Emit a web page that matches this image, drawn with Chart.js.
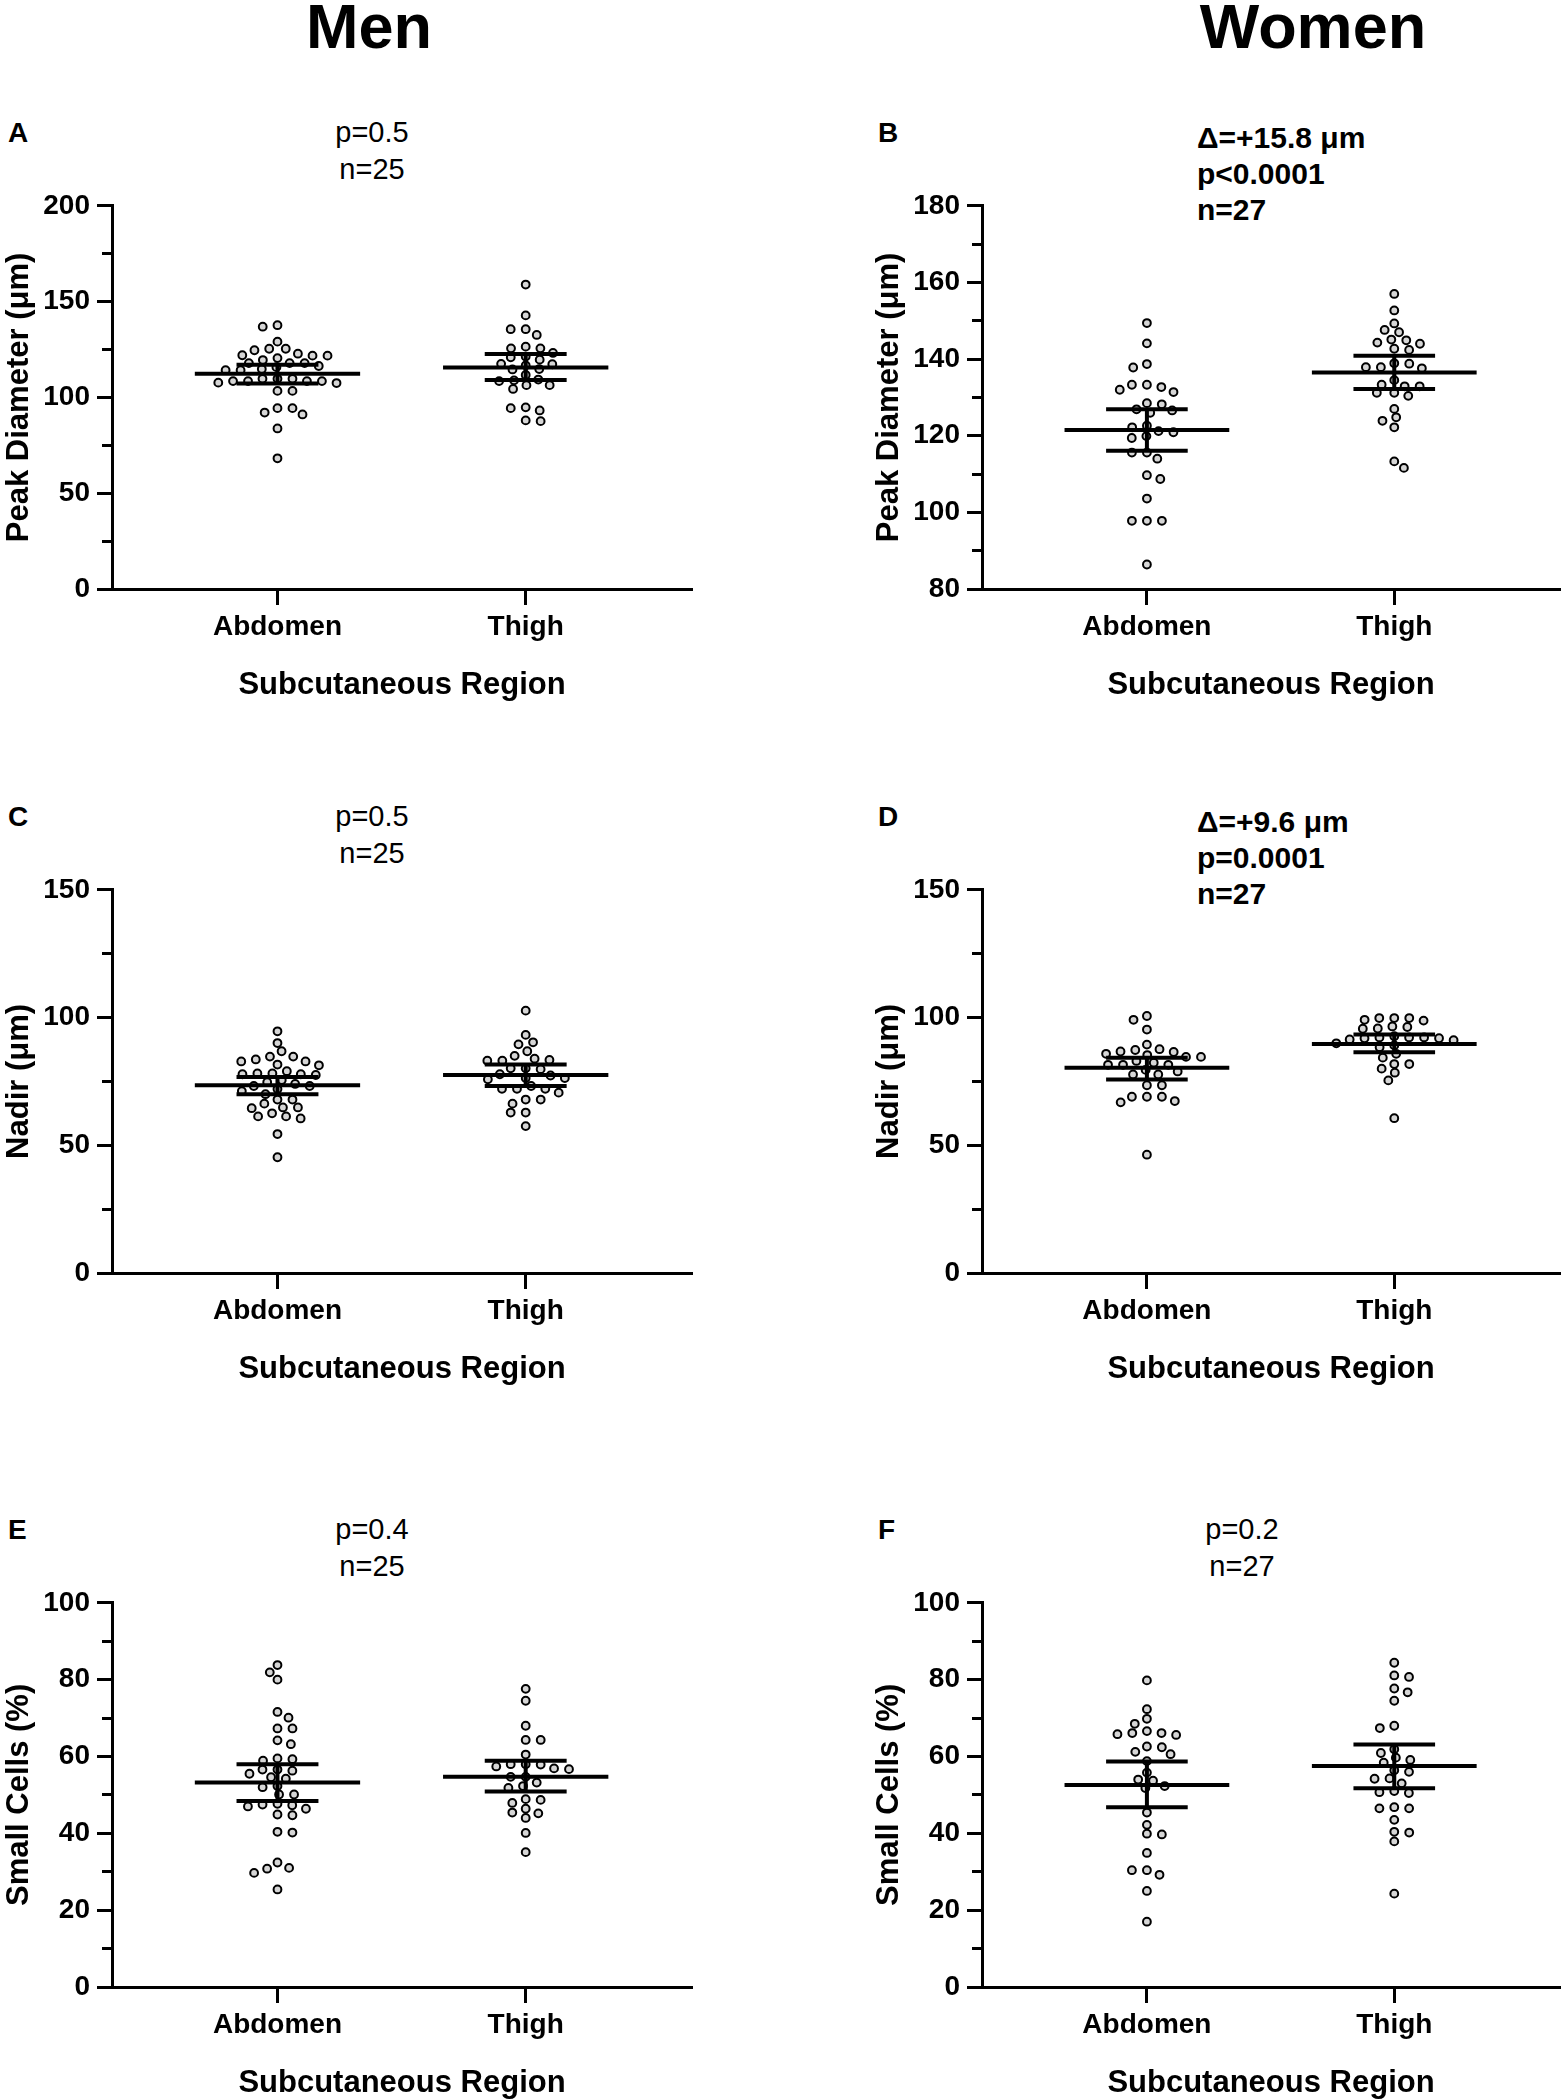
<!DOCTYPE html>
<html>
<head>
<meta charset="utf-8">
<script src="https://cdn.jsdelivr.net/npm/chart.js@4.4.1/dist/chart.umd.min.js"></script>
<style>
  html, body { margin: 0; padding: 0; background: #fff; }
  body { position: relative; width: 1566px; height: 2100px; overflow: hidden;
         font-family: "Liberation Sans", Arial, Helvetica, sans-serif; color: #000; }
  .t { position: absolute; white-space: nowrap; color: #000; }
  canvas { position: absolute; }
</style>
</head>
<body>
<div class="t" style="left:169px;width:400px;text-align:center;top:-5px;font-size:63px;line-height:63px;font-weight:bold;">Men</div>
<div class="t" style="left:1113px;width:400px;text-align:center;top:-5px;font-size:63px;line-height:63px;font-weight:bold;">Women</div>
<div id="texts"></div>
<script>
// ---------------- DATA ----------------
const categories = ['Abdomen', 'Thigh'];

// Peak diameter (µm)
const peakMenTicks = [0, 50, 100, 150, 200];
const peakMenAbdomen = [136.9,137.7,129.1,124.6,125.4,125.4,122.0,120.5,121.8,121.8,122.8,119.5,117.9,116.4,117.9,117.9,114.8,114.2,114.2,115.8,108.5,109.7,108.5,109.7,108.5,109.7,107.5,108.5,107.7,103.4,103.4,94.4,94.4,91.1,92.1,83.8,68.2];
const peakMenThigh = [158.9,142.8,135.6,135.6,132.6,125.6,126.5,125.6,123.2,119.7,120.9,121.3,117.3,116.7,114.6,117.5,114.8,111.7,109.3,108.5,108.9,106.4,106.4,104.4,94.8,94.4,93.2,87.6,88.0];
const peakMenMean = [112.4, 115.6];
const peakMenLow  = [107.3, 109.1];
const peakMenHigh = [117.1, 122.6];

const peakWomenTicks = [80, 100, 120, 140, 160, 180];
const peakWomenAbdomen = [149.4,144.1,137.8,138.7,132.0,133.3,132.7,133.3,131.4,128.2,128.5,126.0,126.6,126.9,122.2,122.6,121.2,120.9,119.4,119.9,115.6,115.6,114.0,108.7,109.7,103.6,97.8,97.8,97.8,86.4];
const peakWomenThigh = [157.0,152.7,149.3,147.0,147.6,144.9,144.3,145.1,144.0,142.4,142.7,137.9,138.8,137.9,138.9,137.6,134.5,132.9,132.9,133.3,130.4,131.2,131.2,127.0,124.8,123.9,122.2,113.3,111.6];
const peakWomenMean = [121.5, 136.5];
const peakWomenLow  = [116.1, 132.2];
const peakWomenHigh = [126.9, 140.9];

// Nadir (µm)
const nadirTicks = [0, 50, 100, 150];
const nadirMenAbdomen = [94.6,90.0,86.8,82.8,84.7,82.8,83.6,84.7,81.6,81.3,77.8,77.5,78.1,78.1,79.0,77.8,73.2,74.0,75.5,74.7,73.2,72.0,70.0,71.2,67.9,66.3,67.9,64.5,64.8,64.8,62.5,60.5,61.3,61.3,54.4,45.3];
const nadirMenThigh = [102.7,93.2,89.5,90.3,85.0,86.8,83.1,83.4,83.1,83.9,79.8,80.1,80.1,76.3,75.8,77.8,77.3,76.3,73.2,72.1,72.1,72.1,66.3,70.6,67.9,67.9,62.8,62.8,57.5];
const nadirMenMean = [73.5, 77.5];
const nadirMenLow  = [70.0, 73.2];
const nadirMenHigh = [76.7, 81.6];

const nadirWomenAbdomen = [100.6,99.1,95.3,89.4,87.3,86.5,86.7,87.6,84.6,85.3,85.8,84.6,81.5,81.5,82.3,83.0,81.5,79.5,78.9,77.7,77.7,73.5,73.5,67.3,69.0,69.0,69.0,66.8,46.3];
const nadirWomenThigh = [99.8,99.1,98.8,99.8,99.8,95.6,96.3,96.5,95.7,91.9,92.7,91.1,92.2,92.2,92.2,91.9,91.4,85.8,89.1,88.4,89.9,84.3,81.8,81.8,80.0,78.4,75.4,60.6];
const nadirWomenMean = [80.3, 89.6];
const nadirWomenLow  = [75.7, 86.4];
const nadirWomenHigh = [84.3, 93.4];

// Small cells (%)
const smallTicks = [0, 20, 40, 60, 80, 100];
const smallMenAbdomen = [83.8,81.9,80.0,71.6,70.1,67.3,67.3,64.2,63.2,58.9,59.5,59.3,55.5,56.6,56.6,56.3,54.6,54.2,52.0,52.3,50.1,50.1,47.7,47.0,46.4,47.5,47.3,44.7,44.9,40.2,40.4,32.4,29.7,31.0,30.8,25.4];
const smallMenThigh = [77.6,74.5,68.0,64.3,64.3,60.5,57.9,58.0,56.7,57.4,58.0,56.9,54.7,54.7,53.2,51.8,52.3,48.7,48.9,47.9,46.4,45.4,45.2,44.0,40.1,35.1];
const smallMenMean = [53.2, 54.7];
const smallMenLow  = [48.4, 50.9];
const smallMenHigh = [58.0, 58.9];

const smallWomenAbdomen = [79.8,72.3,69.8,68.5,66.6,66.1,66.1,65.8,65.6,62.6,62.4,61.2,60.6,58.8,55.8,54.0,53.7,52.3,51.8,45.4,42.2,39.7,39.9,34.9,29.2,30.4,30.4,25.0,17.0];
const smallWomenThigh = [84.4,80.7,81.1,76.7,77.7,74.5,67.4,68.0,61.9,60.9,59.7,58.4,59.1,56.0,56.4,54.2,54.3,53.0,50.5,51.0,50.7,46.5,46.8,46.5,43.5,40.2,40.4,37.9,24.3];
const smallWomenMean = [52.6, 57.5];
const smallWomenLow  = [46.8, 51.7];
const smallWomenHigh = [58.7, 63.1];

// Panel annotations
const panelLetters = ['A', 'B', 'C', 'D', 'E', 'F'];
const annotA = ['p=0.5', 'n=25'];
const annotB = ['\u0394=+15.8 \u03BCm', 'p<0.0001', 'n=27'];
const annotC = ['p=0.5', 'n=25'];
const annotD = ['\u0394=+9.6 \u03BCm', 'p=0.0001', 'n=27'];
const annotE = ['p=0.4', 'n=25'];
const annotF = ['p=0.2', 'n=27'];

// ---------------- LAYOUT / STYLE ----------------
const FONT = "'Liberation Sans', Arial, Helvetica, sans-serif";
Chart.defaults.font.family = FONT;
Chart.defaults.color = '#000';

const rowTop = [202, 886, 1599];
const plotH = [387, 387, 388];
const colLeft = [0, 783];
const padLeft = [0, 87];
const padRight = [91, 0];
const CANVAS_W = 783;
const XAXIS_H = 115;
const MEAN_HALF = 0.333;
const CAP_HALF = 0.165;
const SPREAD_X = 15;   // horizontal dot pitch (px)
const SPREAD_Y = 8.5;  // vertical distance below which dots collide (px)

const panels = [
  {row:0, col:0, yTitle:'Peak Diameter (\u03BCm)', ticks:peakMenTicks, abd:peakMenAbdomen, thi:peakMenThigh, mean:peakMenMean, low:peakMenLow, high:peakMenHigh, annot:annotA, bold:false},
  {row:0, col:1, yTitle:'Peak Diameter (\u03BCm)', ticks:peakWomenTicks, abd:peakWomenAbdomen, thi:peakWomenThigh, mean:peakWomenMean, low:peakWomenLow, high:peakWomenHigh, annot:annotB, bold:true},
  {row:1, col:0, yTitle:'Nadir (\u03BCm)', ticks:nadirTicks, abd:nadirMenAbdomen, thi:nadirMenThigh, mean:nadirMenMean, low:nadirMenLow, high:nadirMenHigh, annot:annotC, bold:false},
  {row:1, col:1, yTitle:'Nadir (\u03BCm)', ticks:nadirTicks, abd:nadirWomenAbdomen, thi:nadirWomenThigh, mean:nadirWomenMean, low:nadirWomenLow, high:nadirWomenHigh, annot:annotD, bold:true},
  {row:2, col:0, yTitle:'Small Cells (%)', ticks:smallTicks, abd:smallMenAbdomen, thi:smallMenThigh, mean:smallMenMean, low:smallMenLow, high:smallMenHigh, annot:annotE, bold:false},
  {row:2, col:1, yTitle:'Small Cells (%)', ticks:smallTicks, abd:smallWomenAbdomen, thi:smallWomenThigh, mean:smallWomenMean, low:smallWomenLow, high:smallWomenHigh, annot:annotF, bold:false}
];

// ---------------- TEXT (HTML) ----------------
const texts = document.getElementById('texts');
function addText(str, x, baseline, size, bold, align) {
  const d = document.createElement('div');
  d.className = 't';
  d.textContent = str;
  d.style.fontSize = size + 'px';
  d.style.lineHeight = size + 'px';
  d.style.fontWeight = bold ? 'bold' : 'normal';
  d.style.top = (baseline - 0.8465 * size) + 'px';
  if (align === 'center') {
    d.style.left = (x - 200) + 'px';
    d.style.width = '400px';
    d.style.textAlign = 'center';
  } else {
    d.style.left = x + 'px';
  }
  texts.appendChild(d);
}

panels.forEach((p, i) => {
  const axisX = colLeft[p.col] + padLeft[p.col] + 112;
  const top = rowTop[p.row];
  addText(panelLetters[i], axisX - 104, top - 59, 28, true, 'left');
  if (p.bold) {
    p.annot.forEach((s, k) => addText(s, axisX + 215, top - 54 + k * 36, 30, true, 'left'));
  } else {
    p.annot.forEach((s, k) => addText(s, axisX + 260, top - 59 + k * 37, 29, false, 'center'));
  }
});

// ---------------- CHARTS ----------------
// elliptical-collision beeswarm in pixel space
function swarm(pys, dX, dY) {
  const order = pys.map((p, i) => i).sort((a, b) => pys[a] - pys[b]);
  const placed = [];
  const out = new Array(pys.length).fill(0);
  const hits = (q, c, py) => {
    const ex = (q.x - c) / dX, ey = (q.y - py) / dY;
    return ex * ex + ey * ey < 1 - 1e-6;
  };
  order.forEach((i, k) => {
    const py = pys[i];
    const near = placed.filter(q => Math.abs(q.y - py) < dY);
    const cands = [0];
    near.forEach(q => {
      const ey = (q.y - py) / dY;
      const dx = dX * Math.sqrt(Math.max(0, 1 - ey * ey));
      cands.push(q.x + dx, q.x - dx);
    });
    cands.sort((a, b) => (Math.abs(a) - Math.abs(b)) || (k % 2 ? a - b : b - a));
    let best = 0;
    for (const c of cands) {
      if (!near.some(q => hits(q, c, py))) { best = c; break; }
    }
    placed.push({x: best, y: py});
    out[i] = best;
  });
  return out;
}

function lineDs(x1, y1, x2, y2) {
  return {
    type: 'line', data: [{x: x1, y: y1}, {x: x2, y: y2}],
    showLine: true, borderColor: '#000', borderWidth: 4, pointRadius: 0,
    borderCapStyle: 'butt', order: 0, clip: false, fill: false
  };
}

panels.forEach(p => {
  const canvas = document.createElement('canvas');
  const H = 20 + plotH[p.row] + XAXIS_H + 5;
  canvas.width = CANVAS_W;
  canvas.height = H;
  canvas.style.left = colLeft[p.col] + 'px';
  canvas.style.top = (rowTop[p.row] - 20) + 'px';
  canvas.style.width = CANVAS_W + 'px';
  canvas.style.height = H + 'px';
  document.body.appendChild(canvas);

  const yMin = p.ticks[0], yMax = p.ticks[p.ticks.length - 1];
  const minors = p.ticks.slice(1).map((v, i) => (v + p.ticks[i]) / 2);

  const datasets = [];
  [0, 1].forEach(i => {
    const c = i + 1;
    datasets.push(lineDs(c - MEAN_HALF, p.mean[i], c + MEAN_HALF, p.mean[i]));
    datasets.push(lineDs(c - CAP_HALF, p.high[i], c + CAP_HALF, p.high[i]));
    datasets.push(lineDs(c - CAP_HALF, p.low[i], c + CAP_HALF, p.low[i]));
    datasets.push(lineDs(c, p.low[i], c, p.high[i]));
  });
  const dotIdx = [];
  [p.abd, p.thi].forEach((vals, i) => {
    dotIdx.push(datasets.length);
    datasets.push({
      type: 'scatter', data: vals.map(v => ({x: i + 1, y: v})),
      pointRadius: 3.9, pointBorderWidth: 2, pointBackgroundColor: '#d6d6d6',
      pointBorderColor: '#000', order: 1, clip: false
    });
  });

  const chart = new Chart(canvas, {
    type: 'scatter',
    data: { datasets },
    options: {
      responsive: false, animation: false, devicePixelRatio: 1, events: [],
      layout: { padding: { top: 20, bottom: 5, left: padLeft[p.col], right: padRight[p.col] } },
      plugins: { legend: { display: false }, tooltip: { enabled: false } },
      scales: {
        x: {
          type: 'linear', position: 'bottom', min: 1 / 3, max: 2.67,
          afterBuildTicks: s => { s.ticks = [{value: 1}, {value: 2}]; },
          afterFit: s => { s.height = XAXIS_H; },
          ticks: { callback: v => categories[Math.round(v) - 1], font: { size: 28, weight: 'bold' },
                   padding: 5, autoSkip: false, maxRotation: 0, minRotation: 0, color: '#000' },
          grid: { drawOnChartArea: false, drawTicks: true, tickLength: 16, tickWidth: 3, tickColor: '#000' },
          border: { display: true, width: 3, color: '#000' },
          title: { display: true, text: 'Subcutaneous Region', font: { size: 31, weight: 'bold' },
                   padding: { top: 0, bottom: 0 }, color: '#000' }
        },
        y: {
          type: 'linear', position: 'left', weight: 1, min: yMin, max: yMax,
          afterBuildTicks: s => { s.ticks = p.ticks.map(v => ({value: v})); },
          afterFit: s => { s.width = 112; },
          ticks: { font: { size: 28, weight: 'bold' }, padding: 7, autoSkip: false, color: '#000' },
          grid: { drawOnChartArea: false, drawTicks: true, tickLength: 15, tickWidth: 3, tickColor: '#000' },
          border: { display: true, width: 3, color: '#000' },
          title: { display: true, text: p.yTitle, font: { size: 31, weight: 'bold' },
                   padding: { top: 1, bottom: 0 }, color: '#000' }
        },
        yMinor: {
          type: 'linear', position: 'left', weight: 0, min: yMin, max: yMax,
          afterBuildTicks: s => { s.ticks = minors.map(v => ({value: v})); },
          afterFit: s => { s.width = 0; },
          ticks: { callback: () => '', autoSkip: false, padding: 0 },
          grid: { drawOnChartArea: false, drawTicks: true, tickLength: 10, tickWidth: 3, tickColor: '#000' },
          border: { display: false }
        }
      }
    }
  });

  // beeswarm spread computed in pixel space through the chart's own scales
  const xs = chart.scales.x, ys = chart.scales.y;
  [p.abd, p.thi].forEach((vals, i) => {
    const pys = vals.map(v => ys.getPixelForValue(v));
    const offs = swarm(pys, SPREAD_X, SPREAD_Y);
    const cx = xs.getPixelForValue(i + 1);
    chart.data.datasets[dotIdx[i]].data = vals.map((v, k) => ({x: xs.getValueForPixel(cx + offs[k]), y: v}));
  });
  chart.update('none');
});
</script>
</body>
</html>
